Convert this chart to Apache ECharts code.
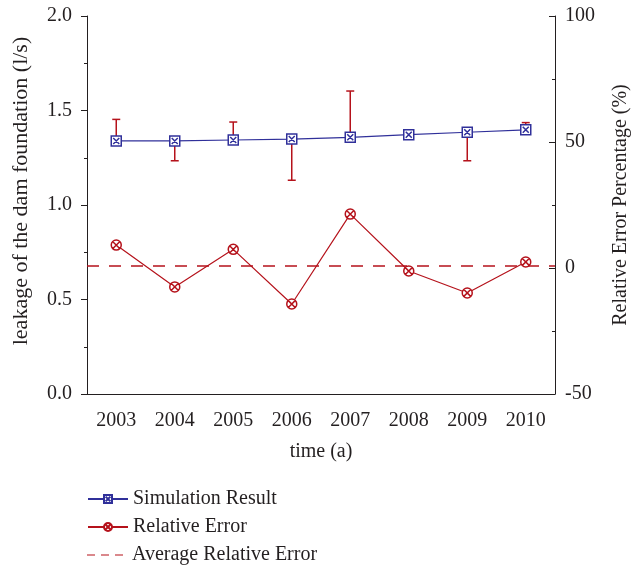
<!DOCTYPE html>
<html><head><meta charset="utf-8">
<script src="https://cdn.jsdelivr.net/npm/echarts@6/dist/echarts.min.js"></script>
<style>html,body{margin:0;padding:0;background:#fff}#c{width:639px;height:569px}</style>
</head><body><div id="c"></div>
<script>
const years = ['2003','2004','2005','2006','2007','2008','2009','2010'];
const simulation = [1.339,1.339,1.344,1.349,1.358,1.372,1.385,1.398];
const errorBarEnd = [1.453,1.234,1.439,1.131,1.603,1.355,1.234,1.436];
const relativeError = [9.1,-7.5,7.4,-14.3,21.4,-1.2,-9.9,2.4];
const averageRelativeError = 0.9;
const leftTicks = {min:0,max:2,interval:0.5};
const rightTicks = {min:-50,max:100,interval:50};

const BLUE = '#30309a', RED = '#b5121b', INK = '#231f20';
const FONT = 'Liberation Serif';
const sqX = 'path://M0 0H10V10H0Z M2 2L8 8 M8 2L2 8';
const ciX = 'path://M5 0A5 5 0 1 1 5 10A5 5 0 1 1 5 0Z M1.6 1.6L8.4 8.4 M8.4 1.6L1.6 8.4';
const dashIcon = 'path://M0 0H8V1H0Z M14 0H22V1H14Z M28 0H36V1H28Z';

const errData = years.map((y,i)=>[i, simulation[i], errorBarEnd[i]]);
const chart = echarts.init(document.getElementById('c'), null, {renderer:'canvas'});
const txt = {fontFamily:FONT, fontSize:20, color:INK};
const legendBase = {orient:'vertical', left:87, padding:0, itemWidth:40, itemHeight:10, textStyle:{fontFamily:FONT, fontSize:20, color:INK}, itemGap:0};
chart.setOption({
  animation:false,
  grid:{left:87,right:84,top:16,bottom:175},
  legend:[
    {...legendBase, top:489, data:['Simulation Result']},
    {...legendBase, top:517, data:['Relative Error']},
    {...legendBase, top:545, itemHeight:1.5, itemWidth:36,
      textStyle:{fontFamily:FONT, fontSize:20, color:INK, padding:[0,0,0,4]},
      data:[{name:'Average Relative Error', icon:dashIcon}]}
  ],
  xAxis:[{
    type:'category', data:years, boundaryGap:true,
    axisLine:{lineStyle:{color:INK,width:1}},
    axisTick:{alignWithLabel:true,length:6,lineStyle:{color:INK}},
    axisLabel:{...txt, margin:17},
    name:'time (a)', nameLocation:'middle', nameGap:48, nameTextStyle:txt
  },{
    type:'category', data:years, boundaryGap:true, position:'bottom',
    axisLine:{show:false},
    axisTick:{alignWithLabel:false,length:3,lineStyle:{color:INK}},
    axisLabel:{show:false}
  }],
  yAxis:[{
    type:'value', ...leftTicks, position:'left',
    axisLine:{show:true,lineStyle:{color:INK}},
    axisTick:{show:true,inside:false,length:6,lineStyle:{color:INK}},
    minorTick:{show:true,splitNumber:2,length:3,lineStyle:{color:INK}},
    splitLine:{show:false},
    axisLabel:{...txt, margin:15, formatter:v=>v.toFixed(1)},
    name:'leakage of the dam foundation (l/s)', nameLocation:'middle', nameRotate:90, nameGap:55,
    nameTextStyle:{...txt, fontSize:22, padding:[0,0,0,28]}
  },{
    type:'value', ...rightTicks, position:'right',
    axisLine:{show:true,lineStyle:{color:INK}},
    axisTick:{show:true,inside:true,length:6,lineStyle:{color:INK}},
    minorTick:{show:true,splitNumber:2,length:3,lineStyle:{color:INK}},
    splitLine:{show:false},
    axisLabel:{...txt, margin:10},
    name:'Relative Error Percentage (%)', nameLocation:'middle', nameRotate:90, nameGap:56, nameTextStyle:txt
  }],
  series:[{
    type:'custom', name:'err', xAxisIndex:0, yAxisIndex:0, z:1, silent:true,
    renderItem:(params, api)=>{
      const p0 = api.coord([api.value(0), api.value(1)]);
      const p1 = api.coord([api.value(0), api.value(2)]);
      const st = {stroke:RED, lineWidth:1.5};
      return {type:'group', children:[
        {type:'line', shape:{x1:p0[0],y1:p0[1],x2:p1[0],y2:p1[1]}, style:st},
        {type:'line', shape:{x1:p1[0]-4,y1:p1[1],x2:p1[0]+4,y2:p1[1]}, style:st}
      ]};
    },
    data:errData
  },{
    type:'line', name:'Simulation Result', xAxisIndex:0, yAxisIndex:0, z:3,
    data:simulation, symbol:sqX, symbolSize:10,
    lineStyle:{color:BLUE,width:1.2}, itemStyle:{color:'#fff',borderColor:BLUE,borderWidth:1.5}
  },{
    type:'line', name:'Relative Error', xAxisIndex:0, yAxisIndex:1, z:3,
    data:relativeError, symbol:ciX, symbolSize:10,
    lineStyle:{color:RED,width:1.2}, itemStyle:{color:'#fff',borderColor:RED,borderWidth:1.5},
    markLine:{silent:true, symbol:'none', label:{show:false}, z:2,
      lineStyle:{color:RED,width:1.5,type:[12,10],opacity:1},
      emphasis:{disabled:true},
      data:[{yAxis:averageRelativeError}]}
  },{
    type:'line', name:'Average Relative Error', xAxisIndex:0, yAxisIndex:1, z:2,
    data:[], symbol:'none', itemStyle:{color:RED}, lineStyle:{color:RED}
  }]
});
</script></body></html>
